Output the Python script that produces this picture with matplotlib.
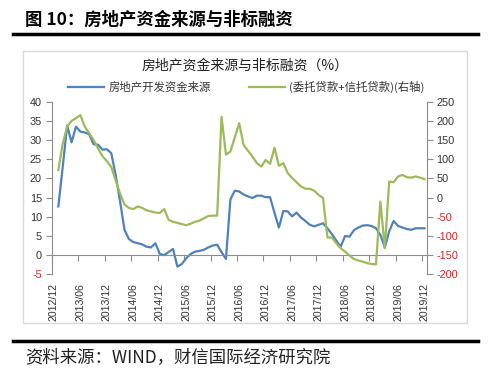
import numpy as np
import matplotlib
matplotlib.use("Agg")
import matplotlib.pyplot as plt
from matplotlib.lines import Line2D
from matplotlib.patches import Rectangle
import matplotlib.transforms as mtransforms

CJK = ['Noto Sans CJK SC', 'DejaVu Sans']
NUM = ['Liberation Sans', 'DejaVu Sans']
plt.rcParams['font.family'] = CJK

# monthly index 0 = 2012/12 ... 84 = 2019/12
x_labels = ["2012/12", "2013/06", "2013/12", "2014/06", "2014/12", "2015/06",
            "2015/12", "2016/06", "2016/12", "2017/06", "2017/12", "2018/06",
            "2018/12", "2019/06", "2019/12"]

# 房地产开发资金来源 (%), from 2013/01
dev_funds = [12.7, 23.0, 33.8, 29.4, 33.5, 32.2, 32.0, 31.5, 28.9, 28.8,
             27.5, 27.6, 26.6, 20.9, 14.0, 6.6, 4.2, 3.4, 3.1, 2.8,
             2.2, 2.0, 3.1, 0.3, 0.0, 0.8, 1.6, -3.0, -2.3, -0.8,
             0.3, 0.9, 1.1, 1.4, 2.0, 2.5, 2.7, 0.8, -1.0, 14.5,
             16.8, 16.6, 15.8, 15.3, 14.9, 15.5, 15.5, 15.1, 15.1, 11.0,
             7.2, 11.5, 11.4, 10.1, 11.1, 9.8, 8.9, 7.9, 7.5, 7.9,
             8.3, 7.0, 5.5, 3.8, 2.2, 5.0, 4.8, 6.5, 7.2, 7.7,
             7.8, 7.6, 7.0, 5.3, 2.0, 6.2, 8.9, 7.6, 7.2, 6.8,
             6.6, 7.0, 7.0, 7.0]

# 委托贷款+信托贷款 (右轴), from 2013/01
nonstd = [72, 140, 185, 200, 207, 215, 185, 168, 150, 128,
          108, 95, 80, 45, 10, -18, -27, -30, -23, -27,
          -33, -36, -39, -40, -30, -58, -63, -66, -69, -72,
          -68, -63, -60, -54, -48, -47, -47, 211, 112, 120,
          157, 194, 137, 122, 107, 90, 81, 98, 88, 130,
          83, 90, 64, 51, 40, 29, 23, 23, 18, 7,
          -1, -104, -104, -119, -132, -141, -151, -160, -164, -167,
          -171, -173, -174, -10, -132, 42, 40, 55, 59, 53,
          52, 55, 52, 48]

left_ticks = list(range(-5, 41, 5))
right_ticks = list(range(-200, 251, 50))

W, H = 500, 377
fig = plt.figure(figsize=(W / 100, H / 100), dpi=100)

def fx(px):
    return px / W

def fy(py):
    return 1 - py / H

# header
fig.text(fx(25), fy(20), "图 10：房地产资金来源与非标融资", fontsize=12.5,
         fontweight='bold', ha='left', va='center', family=CJK)
fig.add_artist(Line2D([fx(13), fx(478)], [fy(34), fy(34)], color='black', lw=2.5))
fig.add_artist(Line2D([fx(13), fx(478)], [fy(341), fy(341)], color='black', lw=2.5))
fig.text(fx(25), fy(357), "资料来源：WIND，财信国际经济研究院", fontsize=12.5,
         ha='left', va='center', family=CJK, style='italic', color='#222222')

# chart frame
fig.add_artist(Rectangle((fx(23), fy(323)), fx(467) - fx(23), fy(51) - fy(323),
                         fill=False, ec='#D9D9D9', lw=1.0, transform=fig.transFigure))
fig.text(fx(245.5), fy(65), "房地产资金来源与非标融资（%）", fontsize=10,
         ha='center', va='center', family=CJK, color='#222222')

left, right, top, bottom = 51.7, 426.7, 101.7, 274.3
ax = fig.add_axes([fx(left), fy(bottom), fx(right) - fx(left), fy(top) - fy(bottom)])
ax.patch.set_visible(False)

idx1 = np.arange(1, 1 + len(dev_funds))
idx2 = np.arange(1, 1 + len(nonstd))
blue = '#4F81BD'
green = '#9BBB59'
l1, = ax.plot(idx1, dev_funds, color=blue, lw=1.6, label='房地产开发资金来源')
ax.set_xlim(-0.5, 84.5)
ax.set_ylim(-5, 40)

ax2 = ax.twinx()
l2, = ax2.plot(idx2, nonstd, color=green, lw=1.6, label='(委托贷款+信托贷款)(右轴)')
ax2.set_ylim(-200, 250)

spine_c = '#8C8C8C'
for a in (ax, ax2):
    for s in a.spines.values():
        s.set_visible(False)
ax.spines['left'].set_visible(True)
ax.spines['left'].set_color(spine_c)
ax2.spines['right'].set_visible(True)
ax2.spines['right'].set_color(spine_c)
ax.spines['bottom'].set_visible(True)
ax.spines['bottom'].set_color(spine_c)
ax.spines['bottom'].set_position(('data', 0))

ax.set_xticks([b - 0.5 for b in range(0, 85, 6)])
ax.set_xticklabels([])
ax.tick_params(axis='x', direction='out', length=4, color=spine_c, width=0.8)

ax.set_yticks(left_ticks)
ax.set_yticklabels([str(t) for t in left_ticks])
ax2.set_yticks(right_ticks)
ax2.set_yticklabels([str(t) for t in right_ticks])
ax.tick_params(axis='y', direction='out', length=4, color=spine_c, width=0.8, pad=3)
ax2.tick_params(axis='y', direction='out', length=4, color=spine_c, width=0.8, pad=3)
for a, ticks in ((ax, left_ticks), (ax2, right_ticks)):
    for lab, t in zip(a.get_yticklabels(), ticks):
        lab.set_fontfamily(NUM)
        lab.set_fontsize(7.8)
        lab.set_color('#E02020' if t < 0 else '#333333')

trans = mtransforms.blended_transform_factory(ax.transData, ax.transAxes)
for k, lab in enumerate(x_labels):
    ax.text(6 * k, -0.05, lab, rotation=90, ha='center', va='top', transform=trans,
            fontsize=7.6, family=NUM, color='#333333')

fig.legend(handles=[l1, l2], loc='center', bbox_to_anchor=(fx(246.5), fy(87)),
           ncol=2, frameon=False, fontsize=8.2, handlelength=3.1, handletextpad=0.4,
           columnspacing=3.4, borderaxespad=0, labelcolor='#333333')

fig.savefig('out.png', dpi=100)
